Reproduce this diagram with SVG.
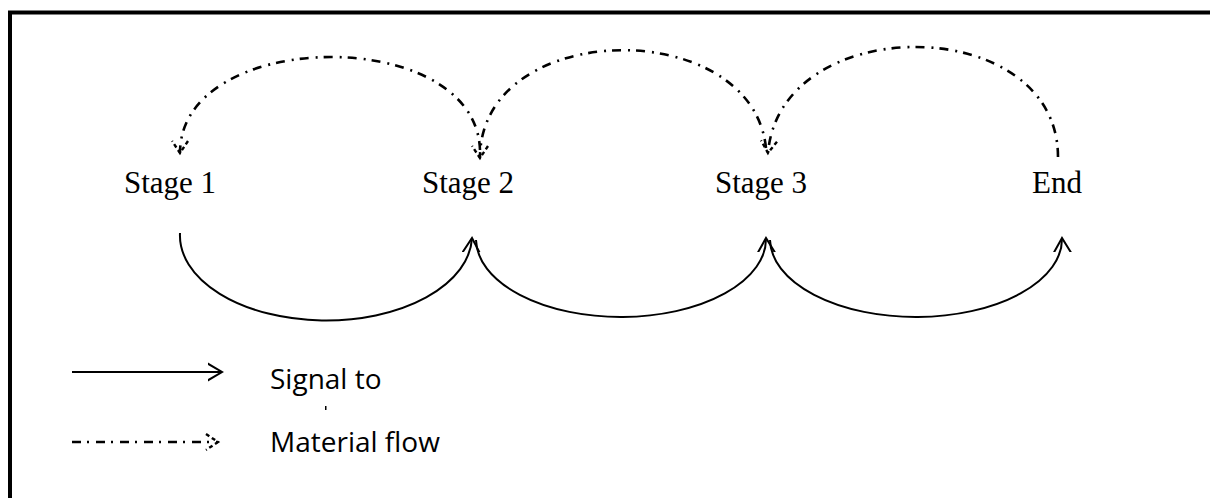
<svg xmlns="http://www.w3.org/2000/svg" width="1210" height="498" viewBox="0 0 1210 498">
  <style>
    .stage { font-family: "Liberation Serif", "Times New Roman", serif; font-size: 31px; fill: #000; text-anchor: middle; }
    .legend { font-family: "Open Sans", "Liberation Sans", Arial, sans-serif; font-size: 28px; fill: #000; }
    .signal { fill: none; stroke: #000; stroke-width: 2; marker-end: url(#openHead); }
    .material { fill: none; stroke: #000; stroke-width: 2.6; stroke-dasharray: 9 6 2 7; marker-end: url(#dashHead); }
    .frame { stroke: #000; stroke-width: 4; fill: none; }
  </style>
  <defs>
    <!-- open chevron head for the signal arcs -->
    <marker id="openHead" markerUnits="userSpaceOnUse" viewBox="-14 -12 18 24" refX="0" refY="0" markerWidth="18" markerHeight="24" orient="auto">
      <path d="M-17,-10 L0,0 L-17,10" fill="none" stroke="#000" stroke-width="2"/>
    </marker>
    <!-- dashed chevron head for the material arcs -->
    <marker id="dashHead" markerUnits="userSpaceOnUse" viewBox="-14 -10 18 20" refX="0" refY="0" markerWidth="18" markerHeight="20" orient="auto">
      <path d="M-12,-8 L0,0 L-12,8" fill="none" stroke="#000" stroke-width="2.4" stroke-dasharray="4 3"/>
    </marker>
  </defs>

  <rect width="1210" height="498" fill="#fff"/>

  <!-- frame: top and left edges only -->
  <path class="frame" d="M10,498 L10,12.5 L1210,12.5"/>

  <g id="stage1"><text class="stage" x="170" y="193">Stage 1</text></g>
  <g id="stage2"><text class="stage" x="468" y="193">Stage 2</text></g>
  <g id="stage3"><text class="stage" x="761" y="193">Stage 3</text></g>
  <g id="end"><text class="stage" x="1057" y="193">End</text></g>

  <g id="connectors">
    <!-- material flow, running back from each stage to the previous one -->
    <path class="material" d="M480,150 C476,24 180,27 180,153"/>
    <path class="material" d="M766,148 C752,14 480,18 480,158"/>
    <path class="material" d="M1058,157 C1058,12 780,10 768,153"/>
    <!-- signal arcs below the stages -->
    <path class="signal" d="M180,233 A146,85 0 0 0 472,238"/>
    <path class="signal" d="M476,240 A145,78 0 0 0 766,238"/>
    <path class="signal" d="M770,240 A146,78 0 0 0 1062,238"/>
  </g>

  <g id="legend">
    <path d="M72,372 L222,372" class="signal"/>
    <text class="legend" x="270" y="389">Signal to</text>
    <rect x="325" y="406" width="1.5" height="4" fill="#000"/>
    <path d="M72,442 L218,442" class="material"/>
    <text class="legend" x="270" y="452">Material flow</text>
  </g>
</svg>
